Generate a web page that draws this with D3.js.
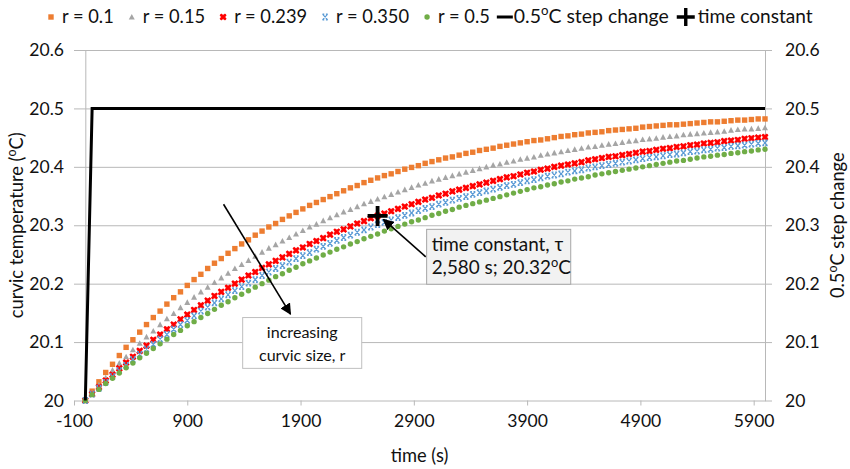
<!DOCTYPE html>
<html><head><meta charset="utf-8">
<script src="https://cdn.jsdelivr.net/npm/d3@7"></script>
<style>
body{margin:0;background:#fff}
svg{display:block}
text{font-family:Lato,"Open Sans",sans-serif;fill:#111}
</style>
</head><body>
<svg id="c" width="850" height="469"></svg>
<script>
const times = [0,60,120,180,240,300,360,420,480,540,600,660,720,780,840,900,960,1020,1080,1140,1200,1260,1320,1380,1440,1500,1560,1620,1680,1740,1800,1860,1920,1980,2040,2100,2160,2220,2280,2340,2400,2460,2520,2580,2640,2700,2760,2820,2880,2940,3000,3060,3120,3180,3240,3300,3360,3420,3480,3540,3600,3660,3720,3780,3840,3900,3960,4020,4080,4140,4200,4260,4320,4380,4440,4500,4560,4620,4680,4740,4800,4860,4920,4980,5040,5100,5160,5220,5280,5340,5400,5460,5520,5580,5640,5700,5760,5820,5880,5940,6000];

const r010 = [20.000,20.016,20.032,20.048,20.062,20.077,20.091,20.104,20.117,20.130,
20.142,20.153,20.165,20.176,20.186,20.197,20.207,20.216,20.226,20.235,
20.243,20.252,20.260,20.268,20.275,20.283,20.290,20.297,20.303,20.310,
20.316,20.322,20.328,20.334,20.339,20.344,20.349,20.354,20.359,20.364,
20.368,20.373,20.377,20.381,20.385,20.388,20.392,20.396,20.399,20.402,
20.406,20.409,20.412,20.415,20.417,20.420,20.423,20.425,20.428,20.430,
20.432,20.435,20.437,20.439,20.441,20.443,20.445,20.446,20.448,20.450,
20.452,20.453,20.455,20.456,20.458,20.459,20.460,20.462,20.463,20.464,
20.465,20.466,20.468,20.469,20.470,20.471,20.472,20.472,20.473,20.474,
20.475,20.476,20.477,20.477,20.478,20.479,20.480,20.480,20.481,20.482,
20.482];

const r015 = [20.000,20.013,20.027,20.039,20.052,20.064,20.075,20.087,20.098,20.109,
20.119,20.130,20.140,20.149,20.159,20.168,20.177,20.186,20.194,20.202,
20.210,20.218,20.226,20.233,20.240,20.247,20.254,20.261,20.267,20.273,
20.279,20.285,20.291,20.297,20.302,20.308,20.313,20.318,20.323,20.327,
20.332,20.337,20.341,20.345,20.349,20.353,20.357,20.361,20.365,20.369,
20.372,20.376,20.379,20.382,20.385,20.388,20.391,20.394,20.397,20.400,
20.403,20.405,20.408,20.410,20.413,20.415,20.417,20.420,20.422,20.424,
20.426,20.428,20.430,20.432,20.434,20.435,20.437,20.439,20.440,20.442,
20.444,20.445,20.447,20.448,20.449,20.451,20.452,20.453,20.455,20.456,
20.457,20.458,20.459,20.460,20.461,20.463,20.464,20.465,20.465,20.466,
20.467];

const r0239 = [20.000,20.011,20.023,20.034,20.044,20.055,20.065,20.075,20.085,20.094,
20.104,20.113,20.122,20.130,20.139,20.147,20.155,20.163,20.171,20.179,
20.186,20.193,20.200,20.207,20.214,20.220,20.227,20.233,20.239,20.245,
20.251,20.257,20.262,20.268,20.273,20.278,20.284,20.289,20.293,20.298,
20.303,20.307,20.312,20.316,20.320,20.324,20.328,20.332,20.336,20.340,
20.344,20.347,20.351,20.354,20.358,20.361,20.364,20.367,20.370,20.373,
20.376,20.379,20.382,20.384,20.387,20.390,20.392,20.395,20.397,20.400,
20.402,20.404,20.406,20.408,20.411,20.413,20.415,20.417,20.418,20.420,
20.422,20.424,20.426,20.427,20.429,20.431,20.432,20.434,20.435,20.437,
20.438,20.440,20.441,20.442,20.444,20.445,20.446,20.448,20.449,20.450,
20.451];

const r0350 = [20.000,20.011,20.021,20.031,20.041,20.051,20.060,20.070,20.079,20.088,
20.096,20.105,20.113,20.122,20.130,20.137,20.145,20.153,20.160,20.167,
20.174,20.181,20.188,20.195,20.201,20.207,20.214,20.220,20.226,20.231,
20.237,20.243,20.248,20.253,20.259,20.264,20.269,20.274,20.279,20.283,
20.288,20.292,20.297,20.301,20.305,20.309,20.313,20.317,20.321,20.325,
20.329,20.332,20.336,20.339,20.343,20.346,20.349,20.353,20.356,20.359,
20.362,20.365,20.368,20.370,20.373,20.376,20.378,20.381,20.384,20.386,
20.388,20.391,20.393,20.395,20.398,20.400,20.402,20.404,20.406,20.408,
20.410,20.412,20.414,20.416,20.417,20.419,20.421,20.422,20.424,20.426,
20.427,20.429,20.430,20.432,20.433,20.435,20.436,20.437,20.439,20.440,
20.441];

const r050 = [20.000,20.010,20.019,20.029,20.038,20.047,20.056,20.064,20.073,20.081,
20.089,20.097,20.105,20.113,20.120,20.128,20.135,20.142,20.149,20.156,
20.163,20.169,20.176,20.182,20.188,20.194,20.200,20.206,20.212,20.217,
20.223,20.228,20.234,20.239,20.244,20.249,20.254,20.259,20.263,20.268,
20.272,20.277,20.281,20.285,20.290,20.294,20.298,20.302,20.306,20.309,
20.313,20.317,20.320,20.324,20.327,20.331,20.334,20.337,20.340,20.343,
20.346,20.349,20.352,20.355,20.358,20.361,20.364,20.366,20.369,20.371,
20.374,20.376,20.379,20.381,20.383,20.386,20.388,20.390,20.392,20.394,
20.396,20.398,20.400,20.402,20.404,20.406,20.408,20.410,20.411,20.413,
20.415,20.417,20.418,20.420,20.421,20.423,20.424,20.426,20.427,20.429,
20.430];

const seriesNames = ["r = 0.1", "r = 0.15", "r = 0.239", "r = 0.350", "r = 0.5"];
const seriesColors = ["#ED7D31", "#A5A5A5", "#FF0000", "#5B9BD5", "#70AD47"];
const seriesShapes = ["square", "triangle", "xbold", "x", "circle"];

const stepTimes = [0, 60, 6000];
const stepValues = [20, 20.5, 20.5];
const stepLabel = "0.5ºC step change";

const tauTime = 2580;
const tauValue = 20.316;
const tauLabel = "time constant";
const tauNote = ["time constant, τ", "2,580 s; 20.32ºC"];
const sizeNote = ["increasing", "curvic size, r"];

const xTicks = [-100, 900, 1900, 2900, 3900, 4900, 5900];
const yTicks = [20, 20.1, 20.2, 20.3, 20.4, 20.5, 20.6];
const yTickLabels = ["20", "20.1", "20.2", "20.3", "20.4", "20.5", "20.6"];
const xTitle = "time (s)";
const yTitle = "curvic temperature (ºC)";
const y2Title = "0.5ºC step change";

const series = [r010, r015, r0239, r0350, r050];

// ---------- drawing ----------
const svg = d3.select("#c");
const L = 74, R = 765, T = 50, B = 400.5;
const x = d3.scaleLinear().domain([-100, 6000]).range([L, R]);
const y = d3.scaleLinear().domain([20, 20.6]).range([B, T]);
const axisCol = "#b8b8b8";

function degText(sel, str, fs) {
  const parts = str.split("º");
  sel.append("tspan").text(parts[0]);
  if (parts.length > 1) {
    sel.append("tspan").attr("font-size", fs * 0.68).attr("dy", -fs * 0.4).text("o");
    sel.append("tspan").attr("dy", fs * 0.4).text(parts[1]);
  }
}
function fitSize(str, targetW) {
  const t = svg.append("text").attr("font-size", 100);
  degText(t, str, 100);
  const w = t.node().getComputedTextLength();
  t.remove();
  return 100 * targetW / w;
}
const FS = fitSize("20.6", 34.7);
const FSL = fitSize("r = 0.350", 73);
const FSstep = fitSize(stepLabel, 155);
const FStau = fitSize(tauLabel, 115);
const FS1 = fitSize("time constant, τ", 131.7);
const FS2 = fitSize("increasing", 70.7);

// gridlines
const grid = svg.append("g").attr("transform", `translate(${L},0)`)
  .call(d3.axisLeft(y).tickValues(yTicks.slice(1)).tickSize(-(R - L)).tickFormat(""));
grid.select(".domain").remove();
grid.selectAll("line").attr("stroke", axisCol);

// left labels
const yl = svg.append("g").attr("transform", `translate(${L},0)`)
  .call(d3.axisLeft(y).tickValues(yTicks).tickSize(0).tickPadding(10).tickFormat((d, i) => yTickLabels[i]));
yl.select(".domain").remove();
yl.selectAll("text").attr("font-size", FS).attr("fill", "#111");

// left axis line at x = 0
const y0 = svg.append("g").attr("transform", `translate(${x(0)},0)`)
  .call(d3.axisLeft(y).tickValues([]).tickSizeOuter(0));
y0.select(".domain").attr("stroke", axisCol);

// right axis
const yr = svg.append("g").attr("transform", `translate(${R},0)`)
  .call(d3.axisRight(y).tickValues(yTicks).tickSize(7).tickSizeOuter(0).tickPadding(13).tickFormat((d, i) => yTickLabels[i]));
yr.select(".domain").attr("stroke", axisCol);
yr.selectAll("line").attr("stroke", axisCol);
yr.selectAll("text").attr("font-size", FS).attr("fill", "#111");

// bottom axis
const xa = svg.append("g").attr("transform", `translate(0,${B})`)
  .call(d3.axisBottom(x).tickValues(xTicks).tickSize(5).tickSizeOuter(0).tickPadding(9).tickFormat(d => String(d)));
xa.select(".domain").attr("stroke", axisCol);
xa.selectAll("line").attr("stroke", axisCol);
xa.selectAll("text").attr("font-size", FS).attr("fill", "#111");

// titles
svg.append("text").attr("x", (L + R) / 2).attr("y", 462).attr("text-anchor", "middle")
  .attr("font-size", FSL).text(xTitle);
const yt = svg.append("text").attr("transform", `translate(23,${(T + B) / 2}) rotate(-90)`)
  .attr("text-anchor", "middle").attr("font-size", FSL);
degText(yt, yTitle, FSL);
const yt2 = svg.append("text").attr("transform", `translate(844,${(T + B) / 2}) rotate(-90)`)
  .attr("text-anchor", "middle").attr("font-size", FSL);
degText(yt2, y2Title, FSL);

// markers
function drawMarker(g, shape, color, cx, cy) {
  const s = 2.7;
  if (shape === "square") {
    g.append("rect").attr("x", cx - s).attr("y", cy - s).attr("width", 2 * s).attr("height", 2 * s).attr("fill", color);
  } else if (shape === "triangle") {
    g.append("path").attr("d", `M${cx},${cy - 3}L${cx + 3},${cy + 2.6}L${cx - 3},${cy + 2.6}Z`).attr("fill", color);
  } else if (shape === "xbold") {
    g.append("rect").attr("x", cx - 2.6).attr("y", cy - 2.6).attr("width", 5.2).attr("height", 5.2).attr("fill", color).attr("opacity", 0.55);
    g.append("path").attr("d", `M${cx - 2.7},${cy - 2.7}L${cx + 2.7},${cy + 2.7}M${cx + 2.7},${cy - 2.7}L${cx - 2.7},${cy + 2.7}`)
      .attr("stroke", color).attr("stroke-width", 2.4);
  } else if (shape === "x") {
    g.append("path").attr("d", `M${cx - 2.6},${cy - 2.8}L${cx + 2.6},${cy + 2.8}M${cx + 2.6},${cy - 2.8}L${cx - 2.6},${cy + 2.8}M${cx - 2.6},${cy - 2.8}L${cx - 0.8},${cy - 2.8}M${cx + 0.8},${cy - 2.8}L${cx + 2.6},${cy - 2.8}M${cx - 2.6},${cy + 2.8}L${cx - 0.8},${cy + 2.8}M${cx + 0.8},${cy + 2.8}L${cx + 2.6},${cy + 2.8}`)
      .attr("stroke", color).attr("stroke-width", 1.2);
  } else {
    g.append("circle").attr("cx", cx).attr("cy", cy).attr("r", 2.7).attr("fill", color);
  }
}

series.forEach((vals, si) => {
  const g = svg.append("g");
  vals.forEach((v, i) => drawMarker(g, seriesShapes[si], seriesColors[si], x(times[i]), y(v)));
});

// step line
svg.append("path")
  .attr("d", d3.line().x((d, i) => x(stepTimes[i])).y(d => y(d))(stepValues))
  .attr("fill", "none").attr("stroke", "#000").attr("stroke-width", 3);

// time constant plus
function drawPlus(g, cx, cy, h, w) {
  g.append("path").attr("d", `M${cx - h},${cy}L${cx + h},${cy}M${cx},${cy - h}L${cx},${cy + h}`)
    .attr("stroke", "#000").attr("stroke-width", w);
}
drawPlus(svg, x(tauTime), y(tauValue), 10, 3.8);

// arrowheads
const defs = svg.append("defs");
defs.append("marker").attr("id", "ah").attr("viewBox", "0 0 10 10").attr("refX", 9).attr("refY", 5)
  .attr("markerWidth", 7).attr("markerHeight", 7).attr("orient", "auto-start-reverse")
  .append("path").attr("d", "M0,0L10,5L0,10Z").attr("fill", "#000");

// annotation: time constant box
const b1 = {t0: 3013, t1: 4285, v0: 20.293, v1: 20.199};
svg.append("line").attr("x1", x(3005)).attr("y1", y(20.246)).attr("x2", x(2632)).attr("y2", y(20.310))
  .attr("stroke", "#000").attr("stroke-width", 1.6).attr("marker-end", "url(#ah)");
svg.append("rect").attr("x", x(b1.t0)).attr("y", y(b1.v0)).attr("width", x(b1.t1) - x(b1.t0)).attr("height", y(b1.v1) - y(b1.v0))
  .attr("fill", "#f2f2f2").attr("stroke", "#a6a6a6").attr("stroke-width", 1);
tauNote.forEach((s, i) => {
  const t = svg.append("text").attr("x", x(b1.t0) + 5).attr("y", y(b1.v0) + 22 + i * 23).attr("font-size", FS1);
  degText(t, s, FS1);
});

// annotation: increasing size box
const b2 = {t0: 1389, t1: 2440, v0: 20.142, v1: 20.055};
svg.append("line").attr("x1", x(1220)).attr("y1", y(20.336)).attr("x2", x(1811)).attr("y2", y(20.148))
  .attr("stroke", "#000").attr("stroke-width", 1.6).attr("marker-end", "url(#ah)");
svg.append("rect").attr("x", x(b2.t0)).attr("y", y(b2.v0)).attr("width", x(b2.t1) - x(b2.t0)).attr("height", y(b2.v1) - y(b2.v0))
  .attr("fill", "#fff").attr("stroke", "#bfbfbf").attr("stroke-width", 1);
sizeNote.forEach((s, i) => {
  svg.append("text").attr("x", (x(b2.t0) + x(b2.t1)) / 2).attr("y", y(b2.v0) + 20 + i * 23)
    .attr("text-anchor", "middle").attr("font-size", FS2).text(s);
});

// legend
const lg = svg.append("g");
const LY = 17;
let prevEnd = 33;
seriesNames.forEach((n, i) => {
  const cx = prevEnd + 18;
  drawMarker(lg, seriesShapes[i], seriesColors[i], cx, LY);
  const t = lg.append("text").attr("x", cx + 11).attr("y", LY + 6).attr("font-size", FSL).text(n);
  prevEnd = cx + 11 + t.node().getComputedTextLength();
});
{
  const x1 = prevEnd + 7;
  lg.append("line").attr("x1", x1).attr("x2", x1 + 16).attr("y1", LY).attr("y2", LY).attr("stroke", "#000").attr("stroke-width", 3);
  const t = lg.append("text").attr("x", x1 + 17).attr("y", LY + 6).attr("font-size", FSstep);
  degText(t, stepLabel, FSstep);
  prevEnd = x1 + 17 + t.node().getComputedTextLength();
}
{
  const cx = prevEnd + 17;
  drawPlus(lg, cx, LY, 9, 3.4);
  lg.append("text").attr("x", cx + 12).attr("y", LY + 6).attr("font-size", FStau).text(tauLabel);
}
</script>
</body></html>
